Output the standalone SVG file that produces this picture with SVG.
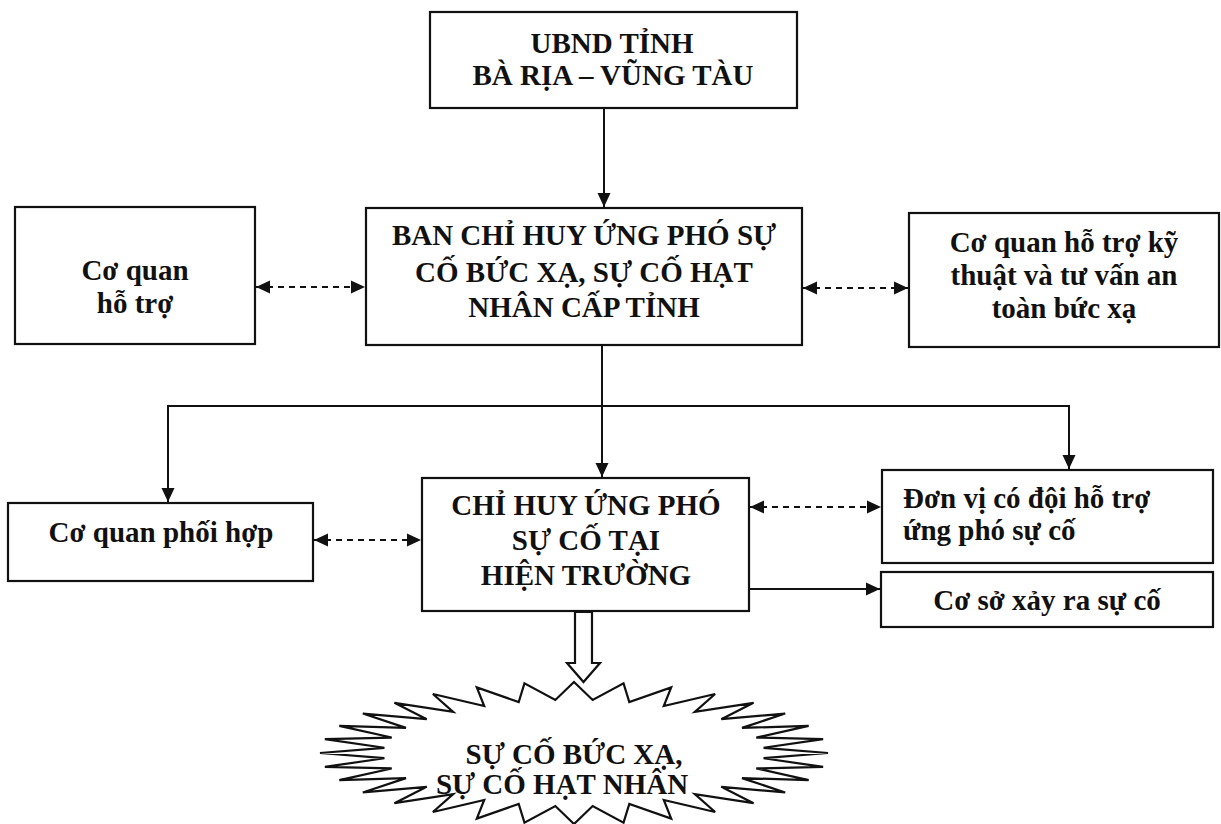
<svg xmlns="http://www.w3.org/2000/svg" width="1221" height="824" viewBox="0 0 1221 824">
<style>
.box{fill:#fff;stroke:#111;stroke-width:2.2}
.t{font-family:"Liberation Serif","Times New Roman",serif;font-weight:bold;font-size:29px;fill:#111}
.c{text-anchor:middle}
.ln{fill:none;stroke:#111;stroke-width:2}
.dash{fill:none;stroke:#111;stroke-width:2;stroke-dasharray:6 5}
</style>
<defs>
<marker id="ah" markerUnits="userSpaceOnUse" markerWidth="15" markerHeight="14" viewBox="0 0 15 14" refX="14" refY="7" orient="auto-start-reverse">
<path d="M0,0.5 L14,7 L0,13.5 Z" fill="#111"/>
</marker>
</defs>
<rect width="1221" height="824" fill="#fff"/>
<g id="connectors">
<line class="ln" x1="604" y1="108" x2="604" y2="207" marker-end="url(#ah)"/>
<line class="ln" x1="602" y1="345" x2="602" y2="477" marker-end="url(#ah)"/>
<polyline class="ln" points="168,502 168,406 1069,406 1069,469" marker-start="url(#ah)" marker-end="url(#ah)"/>
<line class="dash" x1="256" y1="287" x2="365" y2="287" marker-start="url(#ah)" marker-end="url(#ah)"/>
<line class="dash" x1="803" y1="288" x2="908" y2="288" marker-start="url(#ah)" marker-end="url(#ah)"/>
<line class="dash" x1="314" y1="540" x2="421" y2="540" marker-start="url(#ah)" marker-end="url(#ah)"/>
<line class="dash" x1="750" y1="507" x2="881" y2="507" marker-start="url(#ah)" marker-end="url(#ah)"/>
<line class="ln" x1="749" y1="589" x2="880" y2="589" marker-end="url(#ah)"/>
</g>
<g id="ubnd">
<rect class="box" x="430" y="12" width="367" height="96"/>
<text class="t c" x="612" y="53">UBND TỈNH</text>
<text class="t c" x="613" y="85">BÀ RỊA – VŨNG TÀU</text>
</g>
<g id="ban-chi-huy">
<rect class="box" x="366" y="208" width="436" height="137"/>
<text class="t c" x="584" y="245">BAN CHỈ HUY ỨNG PHÓ SỰ</text>
<text class="t c" x="584" y="282">CỐ BỨC XẠ, SỰ CỐ HẠT</text>
<text class="t c" x="584" y="317">NHÂN CẤP TỈNH</text>
</g>
<g id="co-quan-ho-tro">
<rect class="box" x="15" y="207" width="240" height="137"/>
<text class="t c" x="135" y="280">Cơ quan</text>
<text class="t c" x="135" y="313">hỗ trợ</text>
</g>
<g id="co-quan-ky-thuat">
<rect class="box" x="909" y="213" width="310" height="134"/>
<text class="t c" x="1064" y="252">Cơ quan hỗ trợ kỹ</text>
<text class="t c" x="1064" y="285">thuật và tư vấn an</text>
<text class="t c" x="1064" y="318">toàn bức xạ</text>
</g>
<g id="co-quan-phoi-hop">
<rect class="box" x="8" y="503" width="305" height="78"/>
<text class="t c" x="161" y="542">Cơ quan phối hợp</text>
</g>
<g id="chi-huy-hien-truong">
<rect class="box" x="422" y="478" width="327" height="133"/>
<text class="t c" x="586" y="515">CHỈ HUY ỨNG PHÓ</text>
<text class="t c" x="586" y="550">SỰ CỐ TẠI</text>
<text class="t c" x="586" y="585">HIỆN TRƯỜNG</text>
</g>
<g id="don-vi">
<rect class="box" x="882" y="470" width="331" height="93"/>
<text class="t" x="903" y="508">Đơn vị có đội hỗ trợ</text>
<text class="t" x="903" y="540">ứng phó sự cố</text>
</g>
<g id="co-so">
<rect class="box" x="881" y="572" width="332" height="55"/>
<text class="t c" x="1047" y="610">Cơ sở xảy ra sự cố</text>
</g>
<g id="su-co">
<polygon class="box" points="574,682 592.67,700.01 623.55,683.36 629.30,702.04 671.20,687.40 663.80,706.04 715.11,693.97 694.85,711.84 753.61,702.80 721.26,719.22 785.19,713.55 742.01,727.90 808.67,725.83 756.30,737.54 823.12,739.15 763.58,747.78 828,753 763.58,758.22 823.12,766.85 756.30,768.46 808.67,780.17 742.01,778.10 785.19,792.45 721.26,786.78 753.61,803.20 694.85,794.16 715.11,812.03 663.80,799.96 671.20,818.60 629.30,803.96 623.55,822.64 592.67,805.99 574,824 555.33,805.99 524.45,822.64 518.70,803.96 476.80,818.60 484.20,799.96 432.89,812.03 453.15,794.16 394.39,803.20 426.74,786.78 362.81,792.45 405.99,778.10 339.33,780.17 391.70,768.46 324.88,766.85 384.42,758.22 320,753 384.42,747.78 324.88,739.15 391.70,737.54 339.33,725.83 405.99,727.90 362.81,713.55 426.74,719.22 394.39,702.80 453.15,711.84 432.89,693.97 484.20,706.04 476.80,687.40 518.70,702.04 524.45,683.36 555.33,700.01"/>
<text class="t c" x="574" y="764">SỰ CỐ BỨC XẠ,</text>
<text class="t c" x="562" y="794">SỰ CỐ HẠT NHÂN</text>
</g>
<g id="hollow-arrow">
<polygon class="box" points="575,612 592,612 592,663 600,663 583.5,682 567,663 575,663"/>
</g>
</svg>
